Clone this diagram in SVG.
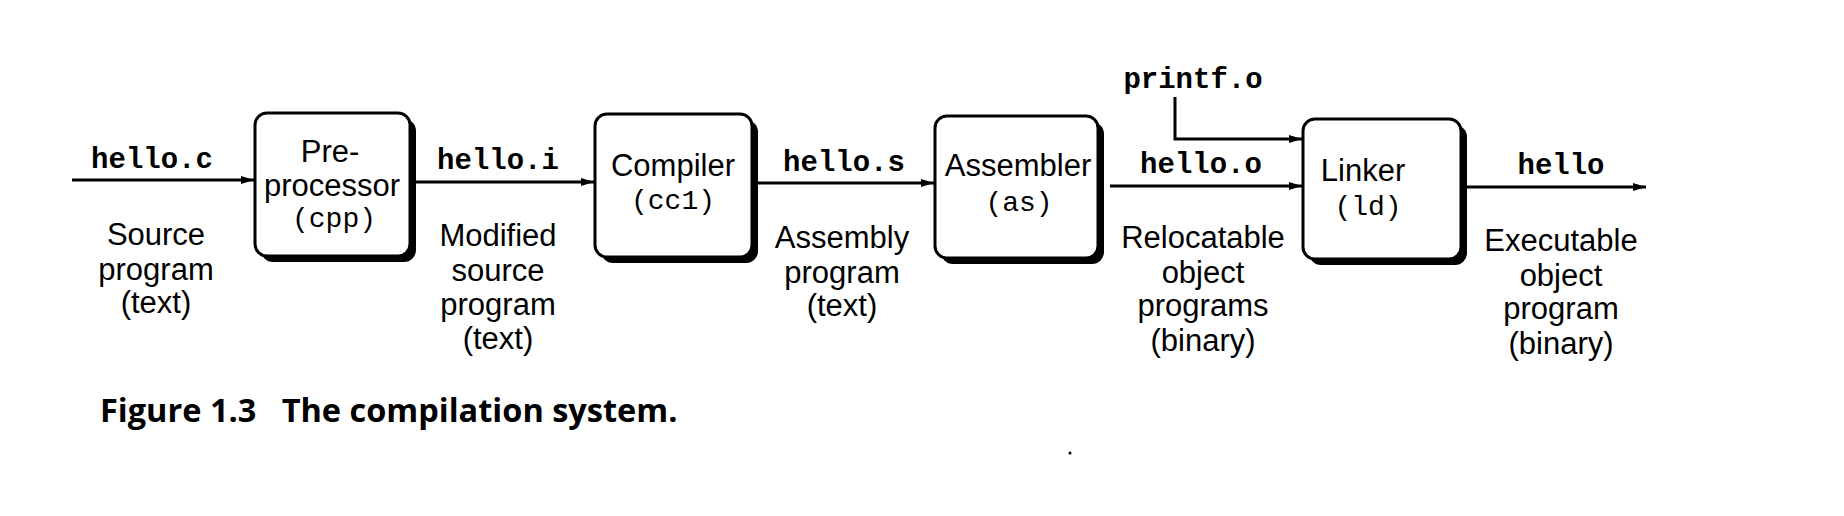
<svg xmlns="http://www.w3.org/2000/svg" width="1844" height="516" viewBox="0 0 1844 516">
<style>
.box{fill:#fff;stroke:#000;stroke-width:3}
.shadow{fill:#000}
.sans{font-family:"Liberation Sans",Arial,sans-serif;font-size:31px;fill:#000;text-anchor:middle}
.mono{font-family:"Liberation Mono","Courier New",monospace;font-size:29px;font-weight:bold;fill:#000;text-anchor:middle}
.mono2{font-family:"Liberation Mono","Courier New",monospace;font-size:28px;fill:#000;text-anchor:middle}
.edge{fill:none;stroke:#000;stroke-width:3}
.cap{font-family:"Open Sans","Noto Sans",sans-serif;font-size:32.5px;font-weight:bold;fill:#000}
</style>
<defs>
<marker id="arr" markerUnits="userSpaceOnUse" markerWidth="14" markerHeight="10" refX="13" refY="5" orient="auto">
<path d="M0,1 L13,5 L0,9 z" fill="#000"/>
</marker>
</defs>
<rect width="1844" height="516" fill="#fff"/>
<g id="connectors">
<path class="edge" d="M72,180 H254" marker-end="url(#arr)"/>
<path class="edge" d="M416,182 H594" marker-end="url(#arr)"/>
<path class="edge" d="M758,183 H934" marker-end="url(#arr)"/>
<path class="edge" d="M1110,186 H1302" marker-end="url(#arr)"/>
<path class="edge" d="M1175,97 V139 H1302" marker-end="url(#arr)"/>
<path class="edge" d="M1467,187 H1646" marker-end="url(#arr)"/>
</g>
<g id="edge-labels">
<text class="mono" x="152" y="168">hello.c</text>
<text class="mono" x="498" y="169">hello.i</text>
<text class="mono" x="844" y="171">hello.s</text>
<text class="mono" x="1201" y="173">hello.o</text>
<text class="mono" x="1193" y="88">printf.o</text>
<text class="mono" x="1561" y="174">hello</text>
</g>
<g id="preprocessor">
<rect class="shadow" x="261" y="119" width="155" height="143" rx="12"/>
<rect class="box" x="255" y="113" width="155" height="143" rx="12"/>
<text class="sans" x="330" y="162">Pre-</text>
<text class="sans" x="332" y="196">processor</text>
<text class="mono2" x="334" y="227">(cpp)</text>
</g>
<g id="compiler">
<rect class="shadow" x="601" y="120" width="157" height="143" rx="12"/>
<rect class="box" x="595" y="114" width="157" height="143" rx="12"/>
<text class="sans" x="673" y="176">Compiler</text>
<text class="mono2" x="673" y="209">(cc1)</text>
</g>
<g id="assembler">
<rect class="shadow" x="941" y="122" width="163" height="142" rx="12"/>
<rect class="box" x="935" y="116" width="163" height="142" rx="12"/>
<text class="sans" x="1018" y="176">Assembler</text>
<text class="mono2" x="1019" y="211">(as)</text>
</g>
<g id="linker">
<rect class="shadow" x="1309" y="125" width="158" height="140" rx="12"/>
<rect class="box" x="1303" y="119" width="158" height="140" rx="12"/>
<text class="sans" x="1363" y="181">Linker</text>
<text class="mono2" x="1368" y="215">(ld)</text>
</g>
<g id="desc-source">
<text class="sans" x="156" y="245">Source</text>
<text class="sans" x="156" y="280">program</text>
<text class="sans" x="156" y="313">(text)</text>
</g>
<g id="desc-modified">
<text class="sans" x="498" y="246">Modified</text>
<text class="sans" x="498" y="281">source</text>
<text class="sans" x="498" y="315">program</text>
<text class="sans" x="498" y="349">(text)</text>
</g>
<g id="desc-assembly">
<text class="sans" x="842" y="248">Assembly</text>
<text class="sans" x="842" y="283">program</text>
<text class="sans" x="842" y="316">(text)</text>
</g>
<g id="desc-relocatable">
<text class="sans" x="1203" y="248">Relocatable</text>
<text class="sans" x="1203" y="283">object</text>
<text class="sans" x="1203" y="316">programs</text>
<text class="sans" x="1203" y="351">(binary)</text>
</g>
<g id="desc-executable">
<text class="sans" x="1561" y="251">Executable</text>
<text class="sans" x="1561" y="286">object</text>
<text class="sans" x="1561" y="319">program</text>
<text class="sans" x="1561" y="354">(binary)</text>
</g>
<g id="caption">
<text class="cap" x="100" y="422" xml:space="preserve">Figure 1.3   The compilation system.</text>
</g>
<circle cx="1070" cy="453" r="1.5" fill="#000"/>
</svg>
